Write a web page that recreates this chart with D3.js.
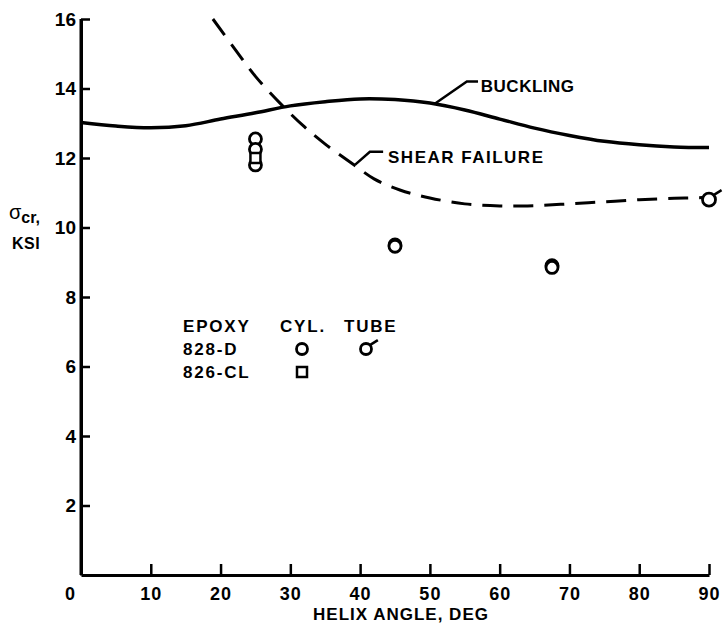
<!DOCTYPE html>
<html>
<head>
<meta charset="utf-8">
<script src="https://cdn.jsdelivr.net/npm/d3@7"></script>
<style>
  body { margin: 0; background: #fff; }
  svg text { font-family: "Liberation Sans", Arial, sans-serif; font-weight: bold; fill: #000; }
</style>
</head>
<body>
<div id="chart"></div>
<script>
// tick values
var xTicks = [0, 10, 20, 30, 40, 50, 60, 70, 80, 90];
var yTicks = [2, 4, 6, 8, 10, 12, 14, 16];

// buckling curve (solid)
var bucklingAngle  = [0, 5, 10, 15, 20, 25, 30, 35, 40, 45, 50, 55, 60, 65, 70, 75, 80, 85, 90];
var bucklingStress = [13.02, 12.92, 12.87, 12.93, 13.12, 13.3, 13.5, 13.62, 13.7, 13.68, 13.58, 13.38, 13.12, 12.86, 12.65, 12.48, 12.38, 12.32, 12.3];

// shear failure curve (dashed)
var shearAngle  = [18.9, 22, 25, 28.9, 32, 35, 39, 42, 45.7, 50, 55, 60, 65, 70, 75, 80, 85, 89];
var shearStress = [16.0, 15.15, 14.35, 13.5, 12.9, 12.4, 11.82, 11.4, 11.08, 10.85, 10.68, 10.62, 10.63, 10.68, 10.74, 10.8, 10.84, 10.86];

// test points: 828-D cylinders (circle), 826-CL cylinder (square), 828-D tube
var cylAngle  = [25, 25, 25, 25, 45, 45, 67.5, 67.5];
var cylStress = [12.55, 12.25, 11.8, 12.0, 9.5, 9.46, 8.9, 8.85];
var cylType   = ["c", "c", "c", "s", "c", "c", "c", "c"];
var tubeAngle  = [90];
var tubeStress = [10.8];

var width = 727, height = 624;
var margin = {top: 19, right: 18, bottom: 49, left: 81};

var svg = d3.select("#chart").append("svg")
    .attr("width", width)
    .attr("height", height);

var x = d3.scaleLinear().domain([0, 90]).range([margin.left, width - margin.right]);
var y = d3.scaleLinear().domain([0, 16]).range([height - margin.bottom, margin.top]);

// axes
var xAxis = svg.append("g")
    .attr("transform", "translate(0," + y(0) + ")")
    .call(d3.axisBottom(x).tickValues(xTicks).tickSizeInner(-11).tickSizeOuter(0).tickPadding(12));
var yAxis = svg.append("g")
    .attr("transform", "translate(" + x(0) + ",0)")
    .call(d3.axisLeft(y).tickValues(yTicks).tickSizeInner(-9).tickSizeOuter(0).tickPadding(5));

svg.append("line")
    .attr("x1", x(0)).attr("x2", x(0))
    .attr("y1", y(0)).attr("y2", y(16))
    .attr("stroke", "#000").attr("stroke-width", 3);

[xAxis, yAxis].forEach(function(a){
    a.select(".domain").attr("stroke", "#000").attr("stroke-width", 3);
    a.selectAll(".tick line").attr("stroke", "#000").attr("stroke-width", 2.5);
    a.selectAll(".tick text").style("font-size", "19px");
});
xAxis.selectAll(".tick text").attr("dy", "0.71em").style("font-size", "18px").style("letter-spacing", "1px");
xAxis.selectAll(".tick text").filter(function(d){ return d === 0; }).attr("dx", -11);

// axis titles
svg.append("text")
    .attr("x", (x(0) + x(90)) / 2 + 6)
    .attr("y", 620)
    .attr("text-anchor", "middle")
    .style("font-size", "17px")
    .style("letter-spacing", "1px")
    .text("HELIX ANGLE, DEG");

var ylab = svg.append("text")
    .attr("x", 9)
    .attr("y", 219)
    .style("font-size", "20px");
ylab.append("tspan").style("font-weight", "normal").text("σ");
ylab.append("tspan").attr("dy", 4).style("font-size", "16px").text("cr,");
svg.append("text")
    .attr("x", 12)
    .attr("y", 249)
    .style("font-size", "16px")
    .style("letter-spacing", "0.5px")
    .text("KSI");

// curves
var buckling = bucklingAngle.map(function(d, i){ return [d, bucklingStress[i]]; });
var shear = shearAngle.map(function(d, i){ return [d, shearStress[i]]; });

var line = d3.line()
    .x(function(d){ return x(d[0]); })
    .y(function(d){ return y(d[1]); })
    .curve(d3.curveCatmullRom.alpha(0.5));

svg.append("path")
    .datum(buckling)
    .attr("d", line)
    .attr("fill", "none")
    .attr("stroke", "#000")
    .attr("stroke-width", 3.5);

svg.append("path")
    .datum(shear)
    .attr("d", line)
    .attr("fill", "none")
    .attr("stroke", "#000")
    .attr("stroke-width", 3)
    .attr("stroke-dasharray", "20,11");

// curve labels with leaders
var labels = [
    {text: "BUCKLING", path: [[50.7, 13.56], [55.3, 14.2], [56.9, 14.2]], tx: 57.3, ty: 13.9, ls: "0.5px"},
    {text: "SHEAR FAILURE", path: [[39.3, 11.81], [41.4, 12.18], [43.3, 12.18]], tx: 44.0, ty: 11.87, ls: "1.5px"}
];
labels.forEach(function(l){
    svg.append("path")
        .attr("d", d3.line().x(function(d){ return x(d[0]); }).y(function(d){ return y(d[1]); })(l.path))
        .attr("fill", "none")
        .attr("stroke", "#000")
        .attr("stroke-width", 2.5);
    svg.append("text")
        .attr("x", x(l.tx))
        .attr("y", y(l.ty))
        .style("font-size", "17px")
        .style("letter-spacing", l.ls)
        .text(l.text);
});

// symbols
function drawCircle(g, cx, cy, r){
    g.append("circle")
        .attr("cx", cx).attr("cy", cy).attr("r", r)
        .attr("fill", "#fff")
        .attr("stroke", "#000")
        .attr("stroke-width", 2.8);
}
function drawSquare(g, cx, cy, s){
    g.append("rect")
        .attr("x", cx - s / 2).attr("y", cy - s / 2)
        .attr("width", s).attr("height", s)
        .attr("fill", "#fff")
        .attr("stroke", "#000")
        .attr("stroke-width", 2.5);
}
function drawTube(g, cx, cy, r){
    drawCircle(g, cx, cy, r);
    g.append("line")
        .attr("x1", cx + r * 0.7).attr("y1", cy - r * 0.7)
        .attr("x2", cx + r * 0.7 + 8).attr("y2", cy - r * 0.7 - 5)
        .attr("stroke", "#000").attr("stroke-width", 2.5);
}

var pts = svg.append("g");
cylAngle.forEach(function(a, i){
    if(cylType[i] === "s"){
        drawSquare(pts, x(a), y(cylStress[i]), 10);
    } else {
        drawCircle(pts, x(a), y(cylStress[i]), 6);
    }
});
tubeAngle.forEach(function(a, i){
    drawTube(pts, x(a), y(tubeStress[i]), 6.5);
});

// legend
var leg = svg.append("g");
var legRows = [
    {label: "EPOXY", cyl: "CYL.", tube: "TUBE", y: 332},
    {label: "828-D", cyl: "c", tube: "t", y: 355},
    {label: "826-CL", cyl: "s", tube: null, y: 378}
];
legRows.forEach(function(r, i){
    leg.append("text")
        .attr("x", 183).attr("y", r.y)
        .style("font-size", "17px")
        .style("letter-spacing", "1.8px")
        .text(r.label);
    if(i === 0){
        leg.append("text").attr("x", 280).attr("y", r.y)
            .style("font-size", "17px").style("letter-spacing", "1.8px").text(r.cyl);
        leg.append("text").attr("x", 344).attr("y", r.y)
            .style("font-size", "17px").style("letter-spacing", "1.8px").text(r.tube);
    } else {
        if(r.cyl === "c") drawCircle(leg, 302, r.y - 6, 5.5);
        if(r.cyl === "s") drawSquare(leg, 302, r.y - 6, 10);
        if(r.tube === "t") drawTube(leg, 366, r.y - 6, 5.5);
    }
});
</script>
</body>
</html>
